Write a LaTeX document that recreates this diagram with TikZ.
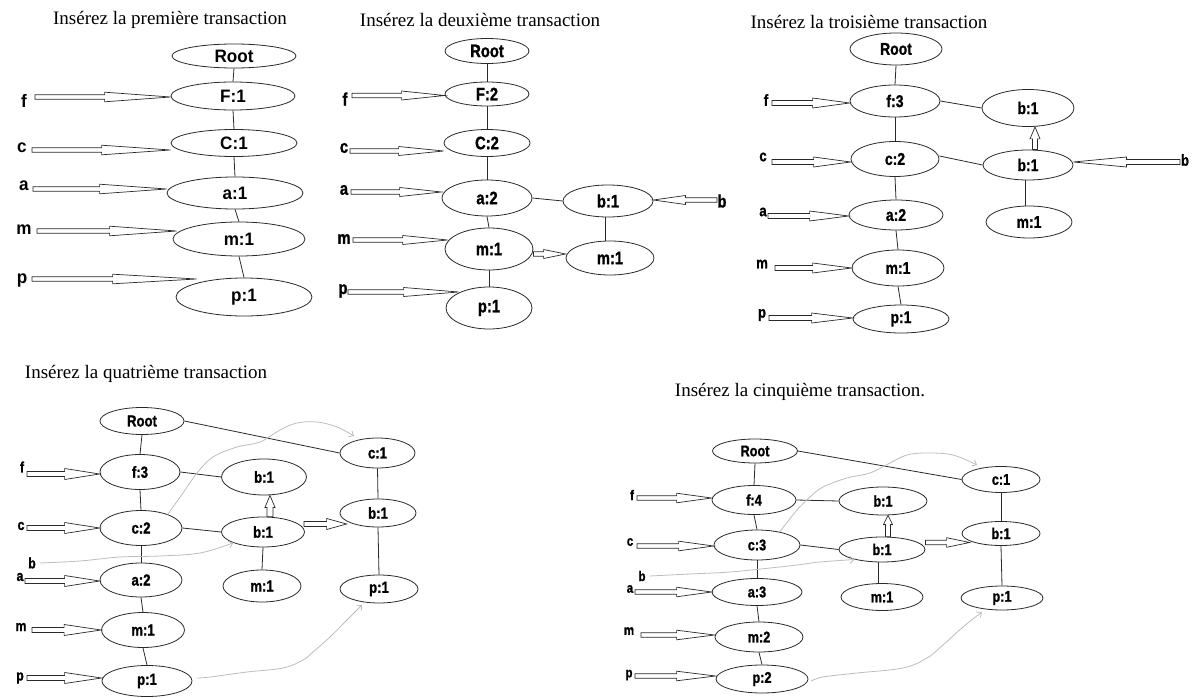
\documentclass[tikz,border=0pt]{standalone}
\usepackage{fontspec}
\setmainfont{Liberation Serif}
\newfontfamily\nodefontwide{Liberation Sans}[FakeStretch=0.95]
\newfontfamily\nodefontnarrow{Liberation Sans}[FakeStretch=0.82, FakeBold=1.2]
\usetikzlibrary{shapes.geometric,calc,arrows.meta}

\definecolor{ink}{HTML}{2A2A2A}
\definecolor{pencil}{HTML}{BDBDBD}

\tikzset{
  el/.style 2 args={ellipse, draw=ink, line width=0.8pt, fill=white, inner sep=0pt,
    minimum width=#1, minimum height=#2},
  link/.style={draw=ink, line width=0.8pt},
  blockar/.style={draw=ink, line width=0.7pt, fill=white, line join=miter},
  pencilar/.style={draw=pencil, line width=0.8pt, line cap=round,
    -{Straight Barb[length=4pt,width=7pt]}},
  title/.style={font=\fontsize{19}{19}\selectfont, inner sep=0pt},
  wf/.style={font=\nodefontwide\bfseries\fontsize{#1}{#1}\selectfont},
  nf/.style={font=\nodefontnarrow\bfseries\fontsize{#1}{#1}\selectfont},
  side/.style={inner sep=0pt},
}

% hollow block arrow: start, tip, head length, shaft half width, head half width
\newcommand\blockarrow[5]{%
  \coordinate (ba-s) at (#1);
  \coordinate (ba-t) at (#2);
  \coordinate (ba-h) at ($(ba-t)!#3!(ba-s)$);
  \draw[blockar] ($(ba-s)!#4!90:(ba-t)$) -- ($(ba-h)!#4!90:(ba-t)$)
    -- ($(ba-h)!#5!90:(ba-t)$) -- (ba-t) -- ($(ba-h)!#5!-90:(ba-t)$)
    -- ($(ba-h)!#4!-90:(ba-t)$) -- ($(ba-s)!#4!-90:(ba-t)$) -- cycle;}

\begin{document}
\begin{tikzpicture}[x=1pt,y=-1pt]
\fill[white] (0,0) rectangle (1192,698);
\useasboundingbox (0,0) rectangle (1192,698);

% ---------------- first transaction ----------------
\node[title] (T1) at (170,20) {Insérez la première transaction};
\node[el={124pt}{24pt}, wf=18] (R1) at (234,56) {Root};
\node[el={124pt}{28pt}, wf=18] (F1) at (233,96) {F:1};
\node[el={126pt}{27pt}, wf=18] (C1) at (234,143) {C:1};
\node[el={136pt}{32pt}, wf=18] (A1) at (235,193) {a:1};
\node[el={132pt}{34pt}, wf=18] (M1) at (239,239) {m:1};
\node[el={136pt}{38pt}, wf=18] (P1) at (244,297) {p:1};
\draw[link] (R1.south) -- (F1.north);
\draw[link] (F1.south) -- (C1.north);
\draw[link] (C1.south) -- (A1.north);
\draw[link] (A1.south) -- (M1.north);
\draw[link] (M1.south) -- (P1.north);
\node[side, wf=18] (f1) at (24,101) {f};
\node[side, wf=18] (c1) at (22,148) {c};
\node[side, wf=18] (a1) at (24,186) {a};
\node[side, wf=18] (m1) at (24,230) {m};
\node[side, wf=18] (p1) at (22,281) {p};
\coordinate (f1s) at (35,97);
\coordinate (c1s) at (32,150);
\coordinate (a1s) at (33,189);
\coordinate (m1s) at (37,231);
\coordinate (p1s) at (32,279);
\blockarrow{f1s}{f1s -| F1.west}{66pt}{2.2pt}{4.8pt}
\blockarrow{c1s}{c1s -| C1.west}{69pt}{2.2pt}{4.8pt}
\blockarrow{a1s}{a1s -| A1.west}{67pt}{2.2pt}{4.8pt}
\blockarrow{m1s}{$(m1s -| M1.west)+(4,0)$}{67pt}{2.2pt}{4.8pt}
\blockarrow{p1s}{$(p1s -| P1.west)+(21,0)$}{84pt}{2.2pt}{4.8pt}

% ---------------- second transaction ----------------
\node[title] (T2) at (480,20) {Insérez la deuxième transaction};
\node[el={84pt}{25pt}, nf=18] (R2) at (487,51) {Root};
\node[el={84pt}{24pt}, nf=18] (F2) at (487,94) {F:2};
\node[el={86pt}{27pt}, nf=18] (C2) at (487,143) {C:2};
\node[el={90pt}{36pt}, nf=18] (A2) at (487,198) {a:2};
\node[el={88pt}{42pt}, nf=18] (M2) at (489,249) {m:1};
\node[el={86pt}{42pt}, nf=18] (P2) at (489,308) {p:1};
\node[el={90pt}{32pt}, nf=18] (B2) at (608,201) {b:1};
\node[el={88pt}{34pt}, nf=18] (N2) at (610,258) {m:1};
\draw[link] (R2.south) -- (F2.north);
\draw[link] (F2.south) -- (C2.north);
\draw[link] (C2.south) -- (A2.north);
\draw[link] (A2.south) -- (M2.north);
\draw[link] (M2.south) -- (P2.north);
\draw[link] (A2.east) -- (B2.west);
\draw[link] ([xshift=-3pt]B2.south) -- ([xshift=-5pt]N2.north);
\node[side, nf=18] (f2) at (345,99) {f};
\node[side, nf=18] (c2) at (344,148) {c};
\node[side, nf=18] (a2) at (344,190) {a};
\node[side, nf=18] (m2) at (344,239) {m};
\node[side, nf=18] (p2) at (343,291) {p};
\node[side, nf=18] (b2) at (722,201) {b};
\coordinate (f2s) at (352,95.5);
\coordinate (c2s) at (350,151);
\coordinate (a2s) at (351,192);
\coordinate (m2s) at (353,240);
\coordinate (p2s) at (348,292);
\coordinate (b2s) at (717,200);
\coordinate (mm2s) at ([yshift=-5pt]M2.east);
\blockarrow{f2s}{f2s -| F2.west}{43pt}{2.2pt}{4.5pt}
\blockarrow{c2s}{c2s -| C2.west}{45pt}{2.2pt}{4.5pt}
\blockarrow{a2s}{a2s -| A2.west}{42pt}{2.2pt}{4.5pt}
\blockarrow{m2s}{$(m2s -| M2.west)+(3,0)$}{45pt}{2.2pt}{4.5pt}
\blockarrow{p2s}{$(p2s -| P2.west)+(13,0)$}{55pt}{2.2pt}{4.5pt}
\blockarrow{b2s}{b2s -| B2.east}{32pt}{2.2pt}{4.5pt}
\blockarrow{mm2s}{mm2s -| N2.west}{22pt}{2.2pt}{4.5pt}

% ---------------- third transaction ----------------
\node[title] (T3) at (869,22) {Insérez la troisième transaction};
\node[el={92pt}{32pt}, nf=17] (R3) at (896,49) {Root};
\node[el={90pt}{32pt}, nf=17] (F3) at (895,101) {f:3};
\node[el={88pt}{35pt}, nf=17] (C3) at (895,159) {c:2};
\node[el={94pt}{30pt}, nf=17] (A3) at (896,215) {a:2};
\node[el={92pt}{36pt}, nf=17] (M3) at (898,268) {m:1};
\node[el={96pt}{28pt}, nf=17] (P3) at (901,319) {p:1};
\node[el={92pt}{37pt}, nf=17] (BT3) at (1028,108) {b:1};
\node[el={90pt}{30pt}, nf=17] (BM3) at (1028,165) {b:1};
\node[el={86pt}{32pt}, nf=17] (N3) at (1029,222) {m:1};
\draw[link] (R3.south) -- (F3.north);
\draw[link] (F3.south) -- (C3.north);
\draw[link] (C3.south) -- (A3.north);
\draw[link] (A3.south) -- (M3.north);
\draw[link] (M3.south) -- (P3.north);
\draw[link] (F3.east) -- (BT3.west);
\draw[link] ([yshift=3pt]C3.east) -- (BM3.west);
\draw[link] ([xshift=-3pt]BM3.south) -- ([xshift=-4pt]N3.north);
\node[side, nf=16] (f3) at (766,100) {f};
\node[side, nf=16] (c3) at (763,157) {c};
\node[side, nf=16] (a3) at (763,212) {a};
\node[side, nf=16] (m3) at (762,264) {m};
\node[side, nf=16] (p3) at (762,315) {p};
\node[side, nf=16] (b3) at (1185,160) {b};
\coordinate (f3s) at (772,103);
\coordinate (c3s) at (772,162);
\coordinate (a3s) at (768,216);
\coordinate (m3s) at (775,268);
\coordinate (p3s) at (769,318);
\coordinate (b3s) at (1180,162);
\coordinate (u3s) at ([xshift=7pt]BM3.north);
\blockarrow{f3s}{f3s -| F3.west}{37pt}{2.5pt}{5pt}
\blockarrow{c3s}{c3s -| C3.west}{37pt}{2.5pt}{5pt}
\blockarrow{a3s}{a3s -| A3.west}{39pt}{2.5pt}{5pt}
\blockarrow{m3s}{m3s -| M3.west}{39pt}{2.5pt}{5pt}
\blockarrow{p3s}{p3s -| P3.west}{41pt}{2.5pt}{5pt}
\blockarrow{b3s}{b3s -| BM3.east}{53pt}{2.5pt}{5pt}
\blockarrow{u3s}{u3s |- BT3.south}{12pt}{2.5pt}{5pt}

% ---------------- fourth transaction ----------------
\node[title] (T4) at (146,374) {Insérez la quatrième transaction};
\node[el={84pt}{27pt}, nf=16] (R4) at (142,421) {Root};
\node[el={80pt}{35pt}, nf=16] (F4) at (140,472) {f:3};
\node[el={82pt}{35pt}, nf=16] (C4) at (141,528) {c:2};
\node[el={82pt}{34pt}, nf=16] (A4) at (141,580) {a:2};
\node[el={83pt}{35pt}, nf=16] (M4) at (143,630) {m:1};
\node[el={90pt}{31pt}, nf=16] (P4) at (147,681) {p:1};
\node[el={85pt}{36pt}, nf=16] (BT4) at (264,477) {b:1};
\node[el={83pt}{30pt}, nf=16] (BM4) at (263,532) {b:1};
\node[el={78pt}{32pt}, nf=16] (N4) at (262,586) {m:1};
\node[el={75pt}{30pt}, nf=16] (CR4) at (377.5,453) {c:1};
\node[el={76pt}{28pt}, nf=16] (BR4) at (378,513) {b:1};
\node[el={78pt}{28pt}, nf=16] (PR4) at (379,589) {p:1};
\draw[link] (R4.south) -- (F4.north);
\draw[link] (F4.south) -- (C4.north);
\draw[link] (C4.south) -- (A4.north);
\draw[link] (A4.south) -- (M4.north);
\draw[link] (M4.south) -- (P4.north);
\draw[link] (R4.east) -- (CR4.west);
\draw[link] (F4.east) -- (BT4.west);
\draw[link] (C4.east) -- (BM4.west);
\draw[link] (BM4.south) -- (N4.north);
\draw[link] (CR4.south) -- (BR4.north);
\draw[link] (BR4.south) -- (PR4.north);
\node[side, nf=15] (f4) at (22,467) {f};
\node[side, nf=15] (c4) at (21,526) {c};
\node[side, nf=15] (a4) at (20,577) {a};
\node[side, nf=15] (m4) at (21,627) {m};
\node[side, nf=15] (p4) at (20,678) {p};
\node[side, nf=15] (b4) at (32,563) {b};
\coordinate (f4s) at (27,474);
\coordinate (c4s) at (27,528);
\coordinate (a4s) at (25,581);
\coordinate (m4s) at (32,630);
\coordinate (p4s) at (27,678);
\coordinate (u4s) at ([xshift=7pt]BM4.north);
\coordinate (r4s) at ([xshift=-1pt,yshift=8pt]BM4.east);
\blockarrow{f4s}{f4s -| F4.west}{35pt}{2.5pt}{5.5pt}
\blockarrow{c4s}{c4s -| C4.west}{35pt}{2.5pt}{5.5pt}
\blockarrow{a4s}{a4s -| A4.west}{35pt}{2.5pt}{5.5pt}
\blockarrow{m4s}{m4s -| M4.west}{37pt}{2.5pt}{5.5pt}
\blockarrow{p4s}{p4s -| P4.west}{37pt}{2.5pt}{5.5pt}
\blockarrow{u4s}{u4s |- BT4.south}{12pt}{3pt}{5pt}
\blockarrow{r4s}{$(r4s -| BR4.west)+(7,0)$}{20pt}{2.5pt}{5.5pt}
% pencil annotations
\draw[pencilar] plot[smooth, tension=0.6] coordinates
  {([xshift=4pt]b4.east) (80,561) (120,557) (160,556) (200,553) (BM4.200)};
\draw[pencilar] plot[smooth, tension=0.6] coordinates
  {(C4.27) (183,493) (197,473) (213,457) (237,447) (260,442) (280,430)
   (297,423) (317,422) (337,427) (354,436)};
\draw[pencilar] plot[smooth, tension=0.6] coordinates
  {([xshift=5pt,yshift=3pt]P4.east) (210,677) (247,672) (283,668) (303,660)
   (313,652) (330,637) (347,620) (362,605)};

% ---------------- fifth transaction ----------------
\node[title] (T5) at (800,392) {Insérez la cinquième transaction.};
\node[el={85pt}{24pt}, nf=15.5] (R5) at (755,451) {Root};
\node[el={84pt}{29pt}, nf=15.5] (F5) at (754,500) {f:4};
\node[el={86pt}{30pt}, nf=15.5] (C5) at (757,545) {c:3};
\node[el={90pt}{27pt}, nf=15.5] (A5) at (757,592) {a:3};
\node[el={88pt}{30pt}, nf=15.5] (M5) at (759,637) {m:2};
\node[el={92pt}{28pt}, nf=15.5] (P5) at (762,679) {p:2};
\node[el={88pt}{28pt}, nf=15.5] (BT5) at (883,501) {b:1};
\node[el={86pt}{25pt}, nf=15.5] (BM5) at (882,549.5) {b:1};
\node[el={82pt}{27pt}, nf=15.5] (N5) at (882,597) {m:1};
\node[el={78pt}{26pt}, nf=15.5] (CR5) at (1001,479.5) {c:1};
\node[el={78pt}{24pt}, nf=15.5] (BR5) at (1001,533.5) {b:1};
\node[el={82pt}{24pt}, nf=15.5] (PR5) at (1002,598) {p:1};
\draw[link] (R5.south) -- (F5.north);
\draw[link] (F5.south) -- (C5.north);
\draw[link] (C5.south) -- (A5.north);
\draw[link] (A5.south) -- (M5.north);
\draw[link] (M5.south) -- (P5.north);
\draw[link] (R5.east) -- (CR5.west);
\draw[link] (F5.east) -- (BT5.west);
\draw[link] (C5.east) -- (BM5.west);
\draw[link] ([xshift=-4pt]BM5.south) -- ([xshift=-4pt]N5.north);
\draw[link] (CR5.south) -- (BR5.north);
\draw[link] (BR5.south) -- (PR5.north);
\node[side, nf=14] (f5) at (632,495) {f};
\node[side, nf=14] (c5) at (630,542) {c};
\node[side, nf=14] (a5) at (630,589) {a};
\node[side, nf=14] (m5) at (629,631) {m};
\node[side, nf=14] (p5) at (629,675) {p};
\node[side, nf=14] (b5) at (642,576) {b};
\coordinate (f5s) at (637,498);
\coordinate (c5s) at (637,546);
\coordinate (a5s) at (635,592);
\coordinate (m5s) at (641,635);
\coordinate (p5s) at (635,676);
\coordinate (u5s) at ([xshift=6pt]BM5.north);
\coordinate (r5s) at ([yshift=7pt]BM5.east);
\blockarrow{f5s}{f5s -| F5.west}{35pt}{2.2pt}{4.8pt}
\blockarrow{c5s}{c5s -| C5.west}{35pt}{2.2pt}{4.8pt}
\blockarrow{a5s}{a5s -| A5.west}{35pt}{2.2pt}{4.8pt}
\blockarrow{m5s}{m5s -| M5.west}{38pt}{2.2pt}{4.8pt}
\blockarrow{p5s}{p5s -| P5.west}{39pt}{2.2pt}{4.8pt}
\blockarrow{u5s}{u5s |- BT5.south}{9pt}{2.5pt}{4.5pt}
\blockarrow{r5s}{$(r5s -| BR5.west)+(8,0)$}{23pt}{2.2pt}{4.8pt}
% pencil annotations
\draw[pencilar] plot[smooth, tension=0.6] coordinates
  {([xshift=4pt]b5.east) (690,574) (730,572) (770,568) (797,565) (820,562) (BM5.200)};
\draw[pencilar] plot[smooth, tension=0.6] coordinates
  {(C5.30) (797,510) (810,497) (823,487) (847,478) (870,473) (890,463)
   (907,455) (927,453) (953,455) (977,465)};
\draw[pencilar] plot[smooth, tension=0.6] coordinates
  {([xshift=3pt,yshift=-2pt]P5.east) (823,677) (857,673) (903,668) (927,658)
   (943,645) (963,627) (982,612)};
\end{tikzpicture}
\end{document}
